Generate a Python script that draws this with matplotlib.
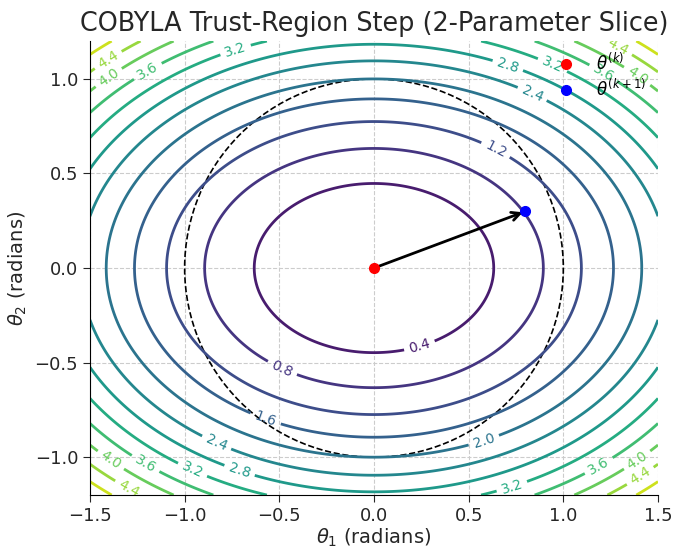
import numpy as np
import matplotlib
matplotlib.use("Agg")
import matplotlib.pyplot as plt
from matplotlib.patches import Circle

# Data
x_range = [-1.5, 1.5]
y_range = [-1.2, 1.2]
coef_x = 1.0
coef_y = 2.0
levels = [0.4, 0.8, 1.2, 1.6, 2.0, 2.4, 2.8, 3.2, 3.6, 4.0, 4.4, 4.8]
color_range = [0.0, 5.2]
theta_k = [0.0, 0.0]
theta_k1 = [0.8, 0.3]
trust_radius = 1.0
xticks = [-1.5, -1.0, -0.5, 0.0, 0.5, 1.0, 1.5]
yticks = [-1.0, -0.5, 0.0, 0.5, 1.0]

# where the contour labels sit (placement hints for clabel)
label_positions = [
    (0.24, -0.41), (-0.48, -0.52), (0.65, 0.64), (-0.57, -0.79), (0.58, -0.91),
    (0.84, 0.93), (-0.83, -0.92), (0.71, 1.08), (-0.71, -1.07),
    (-0.73, 1.15), (0.95, 1.09), (-0.96, -1.07), (0.73, -1.16),
    (-1.20, 1.05), (1.21, 1.03), (-1.21, -1.04), (1.19, -1.05),
    (-1.41, 1.02), (1.40, 1.03), (-1.40, -1.03), (1.40, -1.03),
    (-1.41, 1.11), (1.29, 1.17), (-1.29, -1.16), (1.42, -1.12),
]

fig = plt.figure(figsize=(6.75, 5.48), dpi=100)
ax = fig.add_axes([0.1333, 0.0967, 0.8415, 0.8283])

xs = np.linspace(x_range[0], x_range[1], 300)
ys = np.linspace(y_range[0], y_range[1], 300)
X, Y = np.meshgrid(xs, ys)
Z = coef_x * X**2 + coef_y * Y**2

norm = plt.Normalize(color_range[0], color_range[1])
cs = ax.contour(X, Y, Z, levels=levels, cmap="viridis", norm=norm, linewidths=2)
ax.set_xlim(x_range)
ax.set_ylim(y_range)
ax.clabel(cs, inline=True, fontsize=10, fmt="%.1f", manual=label_positions)

circ = Circle((0, 0), trust_radius, fill=False, ls="--", color="black", lw=1.2)
ax.add_patch(circ)

ax.annotate("", xy=theta_k1, xytext=theta_k,
            arrowprops=dict(arrowstyle="->", color="black", lw=2, mutation_scale=15))
ax.plot(theta_k[0], theta_k[1], "o", color="red", ms=7, label=r"$\theta^{(k)}$", zorder=5)
ax.plot(theta_k1[0], theta_k1[1], "o", color="blue", ms=7, label=r"$\theta^{(k+1)}$", zorder=5)

ax.set_xticks(xticks)
ax.set_yticks(yticks)
ax.grid(True, ls="--", color="#cccccc", lw=0.8)
ax.set_axisbelow(True)
for s in ["top", "right"]:
    ax.spines[s].set_visible(False)
ax.tick_params(labelsize=13, colors="#262626", length=5)
ax.set_xlabel(r"$\theta_1$ (radians)", fontsize=14, color="#262626", labelpad=1)
ax.set_ylabel(r"$\theta_2$ (radians)", fontsize=14, color="#262626")
ax.set_title("COBYLA Trust-Region Step (2-Parameter Slice)", fontsize=18.4, color="#262626", pad=7)
ax.legend(loc="upper right", frameon=False, fontsize=12, handletextpad=1.2,
          borderaxespad=0.3, labelspacing=0.25, handlelength=1.2,
          bbox_to_anchor=(1.0, 1.0))

fig.savefig("out.png", dpi=100)
